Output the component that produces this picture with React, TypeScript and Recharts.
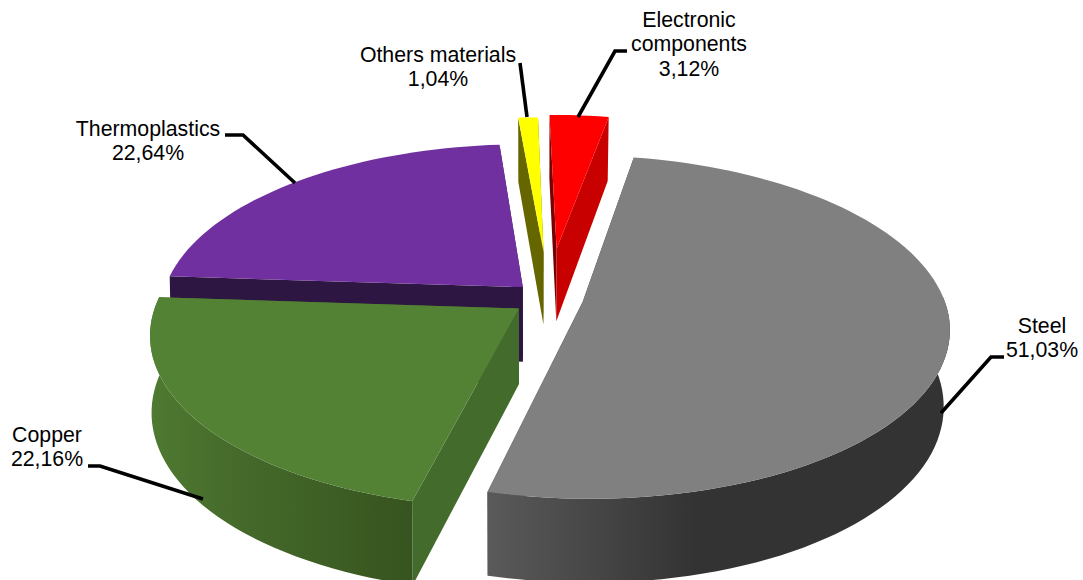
import React from 'react';
import { PieChart, Pie } from 'recharts';

const categories = ['Thermoplastics', 'Others materials', 'Electronic components', 'Steel', 'Copper'];
const shares = [22.64, 1.04, 3.12, 51.03, 22.16];

const labelLines = [['Thermoplastics'], ['Others materials'], ['Electronic', 'components'], ['Steel'], ['Copper']];

const topColors = ['#7030a0', '#ffff00', '#ff0000', '#808080', '#548235'];
const startFaceColors = ['#2e1642', '#666600', '#7a0000', '#404040', '#436b2b'];
const endFaceColors = ['#2e1642', '#666600', '#c80000', '#404040', '#436b2b'];
const wallStops = [
  [['0%', '#2e1642'], ['100%', '#2e1642']],
  [['0%', '#666600'], ['100%', '#666600']],
  [['0%', '#c80000'], ['100%', '#c80000']],
  [['0%', '#5a5a5a'], ['45%', '#333333'], ['100%', '#333333']],
  [['0%', '#4f7a31'], ['30%', '#466b2b'], ['100%', '#36541f']],
];

// how far each slice is pulled out, in pie radii on the table plane
const explode = [
  [-0.048, -0.048],
  [0.01, -0.27],
  [0.048, -0.29],
  [0.118, 0.04],
  [-0.058, 0.08],
];

// text anchor + leader line for each label
const labelBoxes = [
  { x: 148, y: 136, line: '225,135 243,135 295,183' },
  { x: 438, y: 62, line: '520,63 527,117' },
  { x: 689, y: 27, line: '627,51 615,51 578,117' },
  { x: 1042, y: 333, line: '1004,357 991,357 941,413' },
  { x: 47, y: 442, line: '88,466 100,466 203,499' },
];

const TILT = 166 / 360;
const PERSPECTIVE = 0.147;
const DEPTH = 75;
const FONT = '"Liberation Sans", Arial, sans-serif';

const tableData = categories.map((name, i) => ({ name, value: shares[i] }));

function project(cx: number, cy: number, r: number, ux: number, uy: number) {
  const w = 1 / (1 - PERSPECTIVE * uy);
  return [cx + r * ux * w, cy + r * TILT * uy * w];
}

function lower(p: number[], cx: number, uy: number) {
  const d = DEPTH * (1 + 0.115 * uy);
  const taper = p[0] > cx ? 0.015 : 0.004;
  return [p[0] - (p[0] - cx) * taper, p[1] + d];
}

const toPath = (pts: number[][]) => 'M' + pts.map((p) => p[0].toFixed(1) + ' ' + p[1].toFixed(1)).join('L') + 'Z';

function Slice3D(props: any) {
  const { cx, cy, outerRadius, startAngle, endAngle, index } = props;
  const [ox, oy] = explode[index];
  const steps = Math.max(4, Math.round(Math.abs(endAngle - startAngle) / 2));
  const rim: { top: number[]; bottom: number[]; uy: number }[] = [];
  for (let s = 0; s <= steps; s++) {
    const a = ((startAngle + ((endAngle - startAngle) * s) / steps) * Math.PI) / 180;
    const ux = ox + Math.cos(a);
    const uy = oy - Math.sin(a);
    const top = project(cx, cy, outerRadius, ux, uy);
    rim.push({ top, bottom: lower(top, cx, uy), uy });
  }
  const apexTop = project(cx, cy, outerRadius, ox, oy);
  const apexBottom = lower(apexTop, cx, oy);
  const first = rim[0];
  const last = rim[rim.length - 1];
  const front = rim.filter((p) => p.uy > -0.02);
  const gradId = 'wall-' + index;
  return (
    <g>
      <defs>
        <linearGradient id={gradId} gradientUnits="userSpaceOnUse" x1={rim.reduce((m, p) => Math.min(m, p.top[0]), 9999)} x2={rim.reduce((m, p) => Math.max(m, p.top[0]), -9999)} y1={0} y2={0}>
          {wallStops[index].map(([o, c]) => (
            <stop key={o} offset={o} stopColor={c} />
          ))}
        </linearGradient>
      </defs>
      <path d={toPath([first.top, first.bottom, apexBottom, apexTop])} fill={startFaceColors[index]} />
      <path d={toPath([last.top, last.bottom, apexBottom, apexTop])} fill={endFaceColors[index]} />
      {front.length > 1 && (
        <path d={toPath([...front.map((p) => p.top), ...front.map((p) => p.bottom).reverse()])} fill={`url(#${gradId})`} />
      )}
      <path d={toPath([apexTop, ...rim.map((p) => p.top)])} fill={topColors[index]} />
    </g>
  );
}

function renderLabel(props: any) {
  const { index } = props;
  const box = labelBoxes[index];
  const rows = [...labelLines[index], shares[index].toFixed(2).replace('.', ',') + '%'];
  return (
    <g key={index}>
      <polyline points={box.line} fill="none" stroke="#000" strokeWidth={3.6} />
      <text x={box.x} y={box.y} textAnchor="middle" fontFamily={FONT} fontSize={21.3} fill="#000">
        {rows.map((row, i) => (
          <tspan key={row} x={box.x} dy={i === 0 ? 0 : 24.3}>
            {row}
          </tspan>
        ))}
      </text>
    </g>
  );
}

export default function App() {
  return (
    <div style={{ position: 'absolute', left: 0, top: 0, width: 1083, height: 580, background: '#fff', overflow: 'hidden' }}>
      <PieChart width={1083} height={580} margin={{ top: 0, right: 0, bottom: 0, left: 0 }}>
        <Pie
          data={tableData}
          dataKey="value"
          nameKey="name"
          cx={540}
          cy={295}
          innerRadius={0}
          outerRadius={360}
          startAngle={176.2}
          endAngle={-183.8}
          stroke="none"
          shape={Slice3D}
          label={renderLabel}
          labelLine={false}
          isAnimationActive={false}
        />
      </PieChart>
    </div>
  );
}
